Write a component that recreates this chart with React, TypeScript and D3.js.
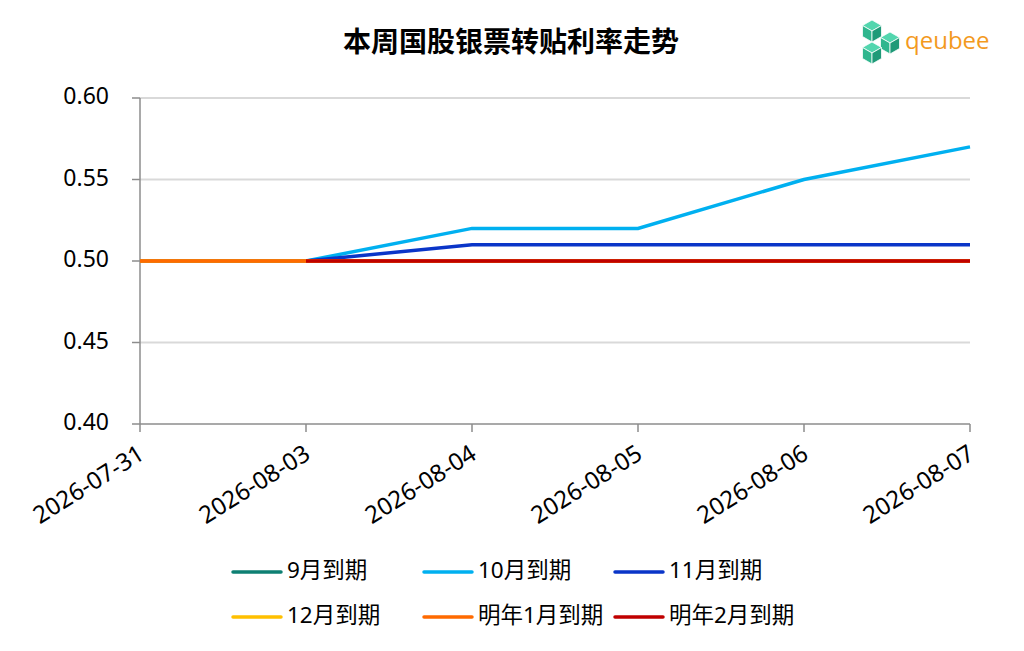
import * as d3 from "d3";
import React from "react";

const dates = ["2026-07-31", "2026-08-03", "2026-08-04", "2026-08-05", "2026-08-06", "2026-08-07"];
const yTicks = [0.4, 0.45, 0.5, 0.55, 0.6];

const seriesNames = ["9月到期", "10月到期", "11月到期", "12月到期", "明年1月到期", "明年2月到期"];
const seriesColors = ["#0e8073", "#00b0f0", "#0a35c8", "#ffc000", "#ff6a00", "#c00000"];
const sep = [0.5, 0.5, 0.5, 0.5, 0.5, 0.5];
const oct = [0.5, 0.5, 0.52, 0.52, 0.55, 0.57];
const nov = [0.5, 0.5, 0.51, 0.51, 0.51, 0.51];
const dec = [0.5, 0.5, 0.5, 0.5, 0.5, 0.5];
const jan = [0.5, 0.5, 0.5, 0.5, 0.5, 0.5];
const feb: (number | null)[] = [null, 0.5, 0.5, 0.5, 0.5, 0.5];
const seriesValues: (number | null)[][] = [sep, oct, nov, dec, jan, feb];

const W = 1024;
const H = 651;
const margin = { top: 98, right: 54, bottom: 227, left: 140 };
const FONT = "'Noto Sans', 'Noto Sans CJK SC', sans-serif";

export default function App() {
  const x = d3.scalePoint<string>().domain(dates).range([margin.left, W - margin.right]).padding(0);
  const y = d3.scaleLinear().domain([0.4, 0.6]).range([H - margin.bottom, margin.top]);
  const x0 = margin.left;
  const x1 = W - margin.right;
  const yBase = y(0.4);

  const line = d3
    .line<number | null>()
    .defined((d) => d !== null)
    .x((_, i) => x(dates[i]) as number)
    .y((d) => y(d as number));

  // logo cube: hexagon split into three faces
  const cube = (cx: number, cy: number, r: number, key: string) => {
    const h = r * Math.sqrt(3) / 2;
    const top = `M${cx},${cy} L${cx - h},${cy - r / 2} L${cx},${cy - r} L${cx + h},${cy - r / 2} Z`;
    const left = `M${cx},${cy} L${cx - h},${cy - r / 2} L${cx - h},${cy + r / 2} L${cx},${cy + r} Z`;
    const right = `M${cx},${cy} L${cx + h},${cy - r / 2} L${cx + h},${cy + r / 2} L${cx},${cy + r} Z`;
    return (
      <g key={key} stroke="#ffffff" strokeWidth={0.8}>
        <path d={top} fill="#52d6ae" />
        <path d={left} fill="#2fb68e" />
        <path d={right} fill="#1f9a78" />
      </g>
    );
  };

  const legendCols = [233, 424, 615];
  const legendRows = [572, 617];

  return (
    <svg width={W} height={H} style={{ position: "absolute", left: 0, top: 0, background: "#fff" }} fontFamily={FONT}>
      {/* title */}
      <text x={511} y={44} textAnchor="middle" dominantBaseline="middle" fontSize={28} fontWeight="bold" fill="#000">
        本周国股银票转贴利率走势
      </text>

      {/* logo */}
      <g>
        {cube(872, 31, 11, "a")}
        {cube(890, 43, 11, "b")}
        {cube(872, 53, 11, "c")}
        <text x={905} y={43} dominantBaseline="middle" fontSize={24} fill="#f39a1e" fontFamily="'Open Sans', sans-serif">
          qeubee
        </text>
      </g>

      {/* grid */}
      {yTicks.filter((t) => t > 0.4).map((t) => (
        <line key={t} x1={x0} x2={x1} y1={y(t)} y2={y(t)} stroke="#d9d9d9" strokeWidth={2} />
      ))}

      {/* y axis */}
      <line x1={x0} x2={x0} y1={margin.top} y2={yBase} stroke="#8c8c8c" strokeWidth={1.5} />
      {yTicks.map((t) => (
        <g key={t}>
          <line x1={x0 - 8} x2={x0} y1={y(t)} y2={y(t)} stroke="#8c8c8c" strokeWidth={1.5} />
          <text x={109} y={y(t)} textAnchor="end" dominantBaseline="middle" fontSize={23} fill="#000">
            {d3.format(".2f")(t)}
          </text>
        </g>
      ))}

      {/* x axis */}
      <line x1={x0} x2={x1} y1={yBase} y2={yBase} stroke="#8c8c8c" strokeWidth={1.5} />
      {dates.map((d) => (
        <g key={d}>
          <line x1={x(d)} x2={x(d)} y1={yBase} y2={yBase + 8} stroke="#8c8c8c" strokeWidth={1.5} />
          <text
            transform={`translate(${(x(d) as number) + 6},${yBase + 34}) rotate(-32)`}
            textAnchor="end"
            fontSize={24}
            fill="#000"
          >
            {d}
          </text>
        </g>
      ))}

      {/* series */}
      {seriesValues.map((vals, i) => (
        <path key={seriesNames[i]} d={line(vals) ?? ""} fill="none" stroke={seriesColors[i]} strokeWidth={3.5} />
      ))}

      {/* legend */}
      {seriesNames.map((name, i) => {
        const lx = legendCols[i % 3];
        const ly = legendRows[Math.floor(i / 3)];
        return (
          <g key={name}>
            <line x1={lx} x2={lx + 48} y1={ly} y2={ly} stroke={seriesColors[i]} strokeWidth={3.5} strokeLinecap="round" />
            <text x={lx + 54} y={ly} dominantBaseline="middle" fontSize={22.5} fill="#000">
              {name}
            </text>
          </g>
        );
      })}
    </svg>
  );
}
